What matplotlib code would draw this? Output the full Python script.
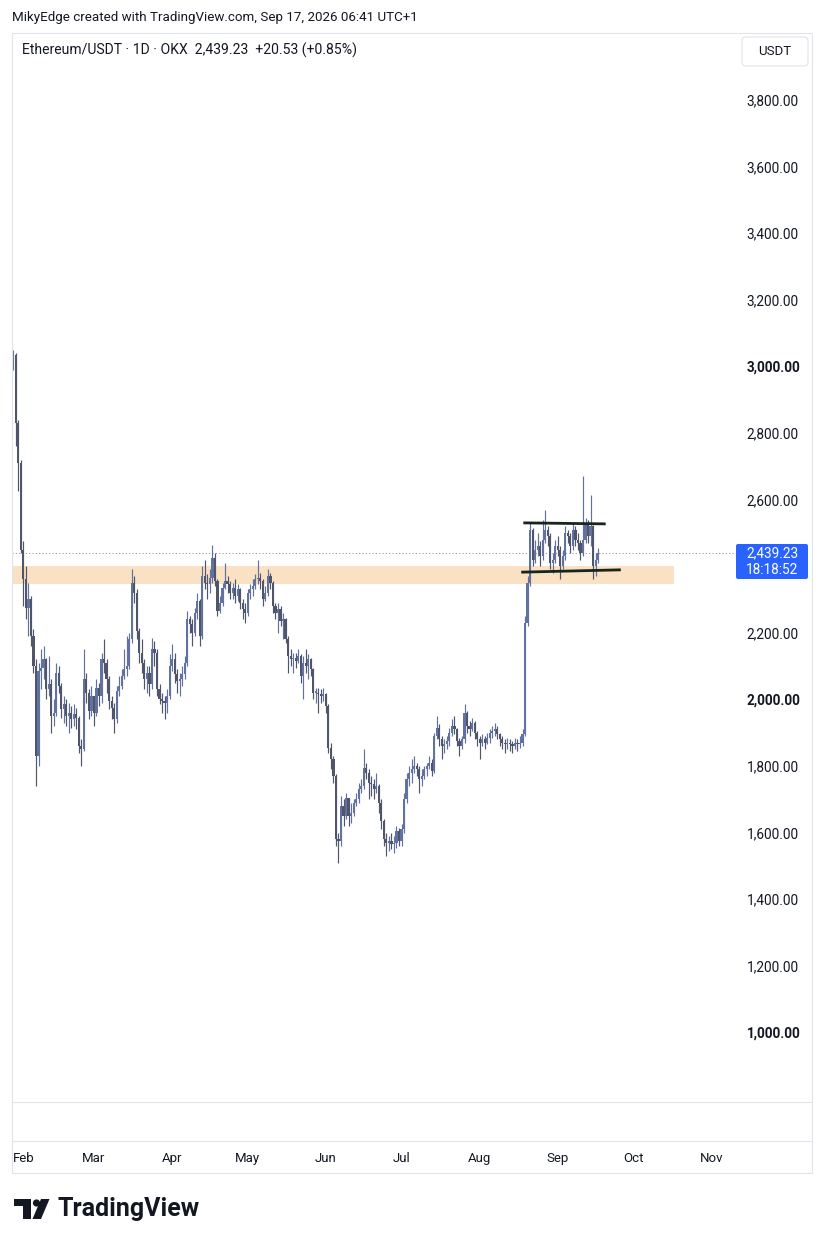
import numpy as np
import pandas as pd
import matplotlib
matplotlib.use('Agg')
import matplotlib.pyplot as plt
import matplotlib.dates as mdates
from matplotlib.patches import Rectangle, FancyBboxPatch, Polygon, Circle

plt.rcParams['font.family'] = ['Roboto', 'DejaVu Sans']

# ETH/USDT daily candles, 28 Jan 2026 -> 17 Sep 2026
first_open = 3005
closes = [3035, 2830, 2710, 2450, 2360, 2275, 2300, 2190, 2100, 1830,
          2085, 2095, 2120, 2030, 2045, 1950, 1960, 2080, 2040, 1970,
          1985, 1950, 1960, 1940, 1955, 1945, 1860, 1850, 2060, 2020,
          1965, 2010, 1960, 2035, 2010, 2120, 2110, 2060, 1995, 1975,
          1940, 2025, 2040, 2070, 2090, 2100,
          2180, 2350, 2320, 2205, 2140, 2110, 2060, 2080, 2045, 2150,
          2140, 2030, 2000, 1995, 1990, 2010, 2100, 2120, 2075, 2055,
          2060, 2075, 2110, 2240, 2225, 2200, 2260, 2295, 2190, 2370,
          2350, 2345, 2365, 2425, 2355, 2265, 2290, 2335, 2355, 2345,
          2320, 2335, 2310, 2330, 2290, 2270, 2260, 2320,
          2330, 2340, 2360, 2365, 2355, 2300, 2320, 2370, 2350, 2280,
          2260, 2270, 2235, 2240, 2180, 2130, 2120, 2125, 2115, 2130,
          2070, 2110, 2100, 2120, 2090, 2020, 2020, 2015, 2010, 2015,
          1980, 1855, 1820, 1770, 1580, 1575, 1680, 1650, 1705, 1650,
          1660, 1690, 1700, 1730, 1740, 1795, 1780, 1750,
          1745, 1730, 1740, 1690, 1635, 1580, 1570, 1575, 1565, 1570,
          1605, 1575, 1610, 1700, 1760, 1780, 1790, 1800, 1790, 1760,
          1770, 1790, 1800, 1810, 1785, 1890, 1915, 1880, 1860, 1865,
          1875, 1900, 1920, 1910, 1875, 1860, 1880, 1960, 1920, 1910,
          1930, 1900, 1880, 1870, 1880, 1870, 1885, 1900,
          1905, 1910, 1895, 1880, 1870, 1865, 1870, 1865, 1860, 1870,
          1865, 1870, 1895, 2230, 2350, 2510, 2420, 2450, 2460, 2430,
          2480, 2510, 2490, 2410, 2420, 2460, 2450, 2400, 2430, 2500,
          2490, 2460, 2510, 2480, 2470, 2440, 2480, 2530, 2490, 2520,
          2400, 2418.70, 2439.23]
highs = [3048, 3040, 2840, 2720, 2475, 2400, 2350, 2310, 2210, 2120,
         2110, 2150, 2160, 2125, 2130, 2060, 2000, 2110, 2100, 2050,
         2010, 2000, 1990, 1980, 1985, 1975, 1950, 1880, 2150, 2080,
         2030, 2040, 2010, 2060, 2050, 2140, 2180, 2120, 2070, 2010,
         1990, 2040, 2070, 2090, 2150, 2190,
         2200, 2390, 2370, 2330, 2215, 2180, 2120, 2100, 2100, 2185,
         2175, 2150, 2045, 2020, 2010, 2030, 2135, 2165, 2140, 2090,
         2080, 2100, 2130, 2265, 2250, 2240, 2275, 2320, 2300, 2400,
         2420, 2375, 2390, 2465, 2440, 2360, 2310, 2350, 2410, 2370,
         2355, 2350, 2360, 2345, 2335, 2300, 2290, 2330,
         2345, 2360, 2375, 2420, 2380, 2360, 2340, 2390, 2380, 2355,
         2290, 2290, 2280, 2260, 2245, 2190, 2150, 2140, 2140, 2150,
         2135, 2130, 2150, 2135, 2125, 2095, 2035, 2035, 2030, 2035,
         2020, 1985, 1870, 1830, 1775, 1600, 1710, 1700, 1720, 1700,
         1690, 1700, 1720, 1750, 1760, 1850, 1810, 1790,
         1770, 1760, 1780, 1745, 1700, 1640, 1600, 1590, 1600, 1590,
         1620, 1615, 1625, 1720, 1780, 1800, 1820, 1830, 1810, 1800,
         1790, 1800, 1810, 1830, 1820, 1900, 1950, 1925, 1890, 1880,
         1890, 1915, 1940, 1950, 1915, 1885, 1890, 1985, 1965, 1935,
         1945, 1935, 1905, 1890, 1895, 1890, 1900, 1910,
         1920, 1930, 1920, 1900, 1890, 1880, 1885, 1880, 1875, 1885,
         1880, 1890, 1910, 2250, 2370, 2530, 2515, 2480, 2500, 2475,
         2540, 2570, 2520, 2500, 2440, 2480, 2490, 2460, 2450, 2520,
         2510, 2500, 2530, 2520, 2500, 2480, 2670, 2545, 2540, 2615,
         2525, 2440, 2455]
lows = [2990, 2760, 2625, 2440, 2280, 2240, 2190, 2160, 2080, 1740,
        1800, 2030, 2060, 2000, 2010, 1900, 1920, 1950, 2020, 1945,
        1930, 1920, 1900, 1915, 1920, 1910, 1840, 1800, 1845, 1990,
        1940, 1950, 1920, 1950, 1980, 1990, 2080, 2020, 1970, 1940,
        1900, 1930, 2010, 2030, 2060, 2070,
        2090, 2170, 2290, 2180, 2110, 2080, 2030, 2020, 2010, 2030,
        2100, 2010, 1985, 1960, 1940, 1960, 2000, 2085, 2050, 2020,
        2010, 2040, 2060, 2100, 2200, 2160, 2190, 2240, 2160, 2180,
        2330, 2300, 2320, 2350, 2340, 2250, 2260, 2280, 2330, 2320,
        2300, 2300, 2290, 2295, 2270, 2240, 2230, 2250,
        2300, 2310, 2330, 2345, 2330, 2280, 2295, 2310, 2330, 2260,
        2240, 2200, 2220, 2180, 2170, 2080, 2100, 2080, 2095, 2110,
        2050, 2000, 2080, 2060, 2070, 2000, 1990, 1960, 1990, 1995,
        1960, 1840, 1790, 1750, 1560, 1510, 1560, 1620, 1640, 1620,
        1630, 1650, 1680, 1690, 1720, 1730, 1760, 1700,
        1710, 1700, 1720, 1660, 1610, 1560, 1530, 1545, 1550, 1540,
        1555, 1560, 1560, 1600, 1690, 1740, 1750, 1780, 1770, 1720,
        1740, 1760, 1770, 1790, 1770, 1780, 1880, 1860, 1820, 1840,
        1850, 1860, 1890, 1895, 1860, 1830, 1850, 1870, 1900, 1890,
        1905, 1880, 1860, 1820, 1860, 1850, 1865, 1870,
        1885, 1890, 1880, 1860, 1850, 1840, 1850, 1845, 1840, 1850,
        1845, 1855, 1860, 1890, 2220, 2340, 2400, 2410, 2430, 2400,
        2420, 2470, 2460, 2390, 2380, 2410, 2430, 2360, 2390, 2420,
        2470, 2440, 2450, 2460, 2450, 2420, 2430, 2470, 2470, 2460,
        2360, 2370, 2410]
dates = pd.date_range('2026-01-28', periods=len(closes), freq='D')

price_ticks = [1000, 1200, 1400, 1600, 1800, 2000, 2200, 2600, 2800,
               3000, 3200, 3400, 3600, 3800]
bold_ticks = [1000, 2000, 3000]

last_price = 2439.23
zone_low, zone_high = 2346, 2400
zone_start, zone_end = '2026-01-24', '2026-10-17'
upper_line = (['2026-08-18 08:00', '2026-09-20 00:00'], [2530, 2527])
lower_line = (['2026-08-17 12:00', '2026-09-26 00:00'], [2382, 2389])

W, H = 825, 1244
TXT = '#131722'
BORDER = '#e0e3eb'
UP, DOWN = '#6171a0', '#50566a'

fig = plt.figure(figsize=(W / 100, H / 100), dpi=100)
fig.patch.set_facecolor('white')


def fbox(x0, y0, x1, y1):
    # pixel box (top-left origin) -> figure fraction rect
    return [x0 / W, 1 - y1 / H, (x1 - x0) / W, (y1 - y0) / H]


ax = fig.add_axes(fbox(12, 33, 735, 1102))
ax.set_facecolor('white')

o = np.array([first_open] + closes[:-1], dtype=float)
c = np.array(closes, dtype=float)
hi = np.array(highs, dtype=float)
lo = np.array(lows, dtype=float)
cols = np.where(c >= o, UP, DOWN)
body_low = np.minimum(o, c)
body_h = np.maximum(np.abs(c - o), 4)

ax.vlines(dates, lo, hi, colors=cols, lw=0.85, zorder=3)
ax.bar(dates, body_h, bottom=body_low, width=0.86, color=cols,
       linewidth=0, zorder=4)

# support zone and channel lines
z0 = mdates.date2num(pd.Timestamp(zone_start))
z1 = mdates.date2num(pd.Timestamp(zone_end))
ax.add_patch(Rectangle((z0, zone_low), z1 - z0, zone_high - zone_low,
                       facecolor='#fbe1c4', edgecolor='none', zorder=2))
ax.plot(pd.to_datetime(upper_line[0]), upper_line[1], color='#17261b',
        lw=2.0, solid_capstyle='butt', zorder=6)
ax.plot(pd.to_datetime(lower_line[0]), lower_line[1], color='#17261b',
        lw=2.0, solid_capstyle='butt', zorder=6)
ax.axhline(last_price, color='#9598a1', lw=0.8, ls=(0, (1, 2)), zorder=1)

feb1 = mdates.date2num(pd.Timestamp('2026-02-01'))
ax.set_xlim(feb1 - 4.52, feb1 + 282.3)
ax.set_ylim(791, 4001)

ax.xaxis.set_major_locator(mdates.MonthLocator())
ax.xaxis.set_major_formatter(mdates.DateFormatter('%b'))
ax.set_xticks([d for d in ax.get_xticks() if feb1 - 1 <= d])
ax.tick_params(axis='x', length=0, pad=36, labelsize=9.5, labelcolor=TXT)

ax.yaxis.tick_right()
ax.set_yticks(price_ticks)
ax.set_yticklabels(['{:,.2f}'.format(p) for p in price_ticks])
ax.tick_params(axis='y', length=0, pad=8.5, labelsize=9.8, labelcolor=TXT)
for lab, p in zip(ax.get_yticklabels(), price_ticks):
    if p in bold_ticks:
        lab.set_fontweight('bold')
for s in ax.spines.values():
    s.set_visible(False)

# overlay in pixel coords for the frame, headers and logo
ov = fig.add_axes([0, 0, 1, 1], zorder=10)
ov.set_xlim(0, W)
ov.set_ylim(H, 0)
ov.axis('off')
ov.patch.set_alpha(0)

ov.add_patch(Rectangle((12, 33), 800, 1140, fill=False, edgecolor=BORDER, lw=0.8))
ov.plot([12, 812], [1102, 1102], color=BORDER, lw=0.8)
ov.plot([12, 812], [1141, 1141], color=BORDER, lw=0.8)

ov.text(12, 18, 'MikyEdge created with TradingView.com, Sep 17, 2026 06:41 UTC+1',
        fontsize=9.6, color=TXT, va='center', ha='left')
ov.text(22, 50, 'Ethereum/USDT \u00b7 1D \u00b7 OKX  2,439.23  +20.53 (+0.85%)',
        fontsize=10.1, color=TXT, va='center', ha='left')

ov.add_patch(FancyBboxPatch((742, 37), 66, 29, boxstyle='round,pad=0,rounding_size=4',
                            facecolor='white', edgecolor=BORDER, lw=0.8))
ov.text(775, 51.5, 'USDT', fontsize=9.5, color=TXT, ha='center', va='center')

ov.add_patch(FancyBboxPatch((736, 544), 72, 35, boxstyle='round,pad=0,rounding_size=2',
                            facecolor='#2962ff', edgecolor='none'))
ov.text(772, 553, '{:,.2f}'.format(last_price), fontsize=9.8, color='white',
        ha='center', va='center')
ov.text(772, 570, '18:18:52', fontsize=9.8, color='white', ha='center', va='center')

# TradingView logo
ov.add_patch(Rectangle((14, 1199), 17, 7, color=TXT, lw=0))
ov.add_patch(Rectangle((23, 1199), 8, 20, color=TXT, lw=0))
ov.add_patch(Circle((36.5, 1203), 3.6, color=TXT, lw=0))
ov.add_patch(Polygon([(41, 1199), (49.5, 1199), (41, 1219), (32.5, 1219)],
                     closed=True, color=TXT, lw=0))
ov.text(57, 1209, 'TradingView', fontsize=18, fontweight='bold', color=TXT,
        ha='left', va='center')

fig.savefig('out.png', dpi=100, facecolor='white')
